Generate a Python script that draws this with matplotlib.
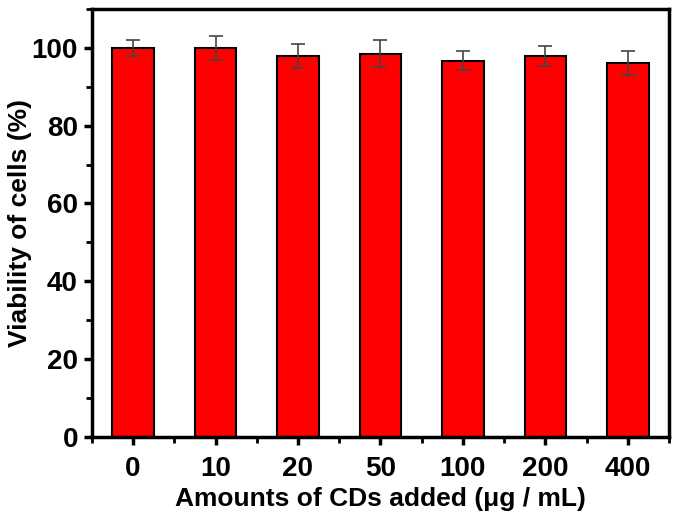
import matplotlib.pyplot as plt
from matplotlib.ticker import MultipleLocator
import numpy as np

plt.rcParams['font.family'] = ['Liberation Sans', 'DejaVu Sans']
plt.rcParams['font.weight'] = 'bold'

doses = ['0', '10', '20', '50', '100', '200', '400']
viability = [100.0, 100.0, 97.9, 98.5, 96.7, 97.9, 96.1]
errors = [2.1, 3.1, 3.0, 3.4, 2.5, 2.6, 3.0]


def main():
    fig = plt.figure(figsize=(6.8, 5.19), dpi=100)
    ax = fig.add_axes([0.135, 0.158, 0.849, 0.825])

    x = np.arange(len(doses))
    ax.bar(x, viability, width=0.5, color='#ff0000', edgecolor='black',
           linewidth=1.5, yerr=errors, capsize=5,
           error_kw=dict(ecolor='#444444', elinewidth=1.2, capthick=1.2))

    ax.set_xlim(-0.5, len(doses) - 0.5)
    ax.set_ylim(0, 110)
    ax.set_xticks(x)
    ax.set_xticklabels(doses)
    ax.xaxis.set_minor_locator(MultipleLocator(0.5))
    ax.yaxis.set_major_locator(MultipleLocator(20))
    ax.yaxis.set_minor_locator(MultipleLocator(10))

    ax.tick_params(which='major', direction='out', length=6, width=2.5,
                   labelsize=20, top=False, right=False)
    ax.tick_params(which='minor', direction='out', length=4, width=2,
                   top=False, right=False)
    ax.tick_params(axis='x', which='major', pad=8)
    ax.tick_params(axis='y', which='major', pad=4)
    for lab in ax.get_xticklabels() + ax.get_yticklabels():
        lab.set_fontweight('bold')

    for s in ax.spines.values():
        s.set_linewidth(2.5)

    ax.set_xlabel('Amounts of CDs added (μg / mL)', fontsize=19,
                  fontweight='bold', labelpad=3)
    ax.set_ylabel('Viability of cells (%)', fontsize=19,
                  fontweight='bold', labelpad=0)

    fig.savefig('out.png', dpi=100)


if __name__ == "__main__":
    main()
